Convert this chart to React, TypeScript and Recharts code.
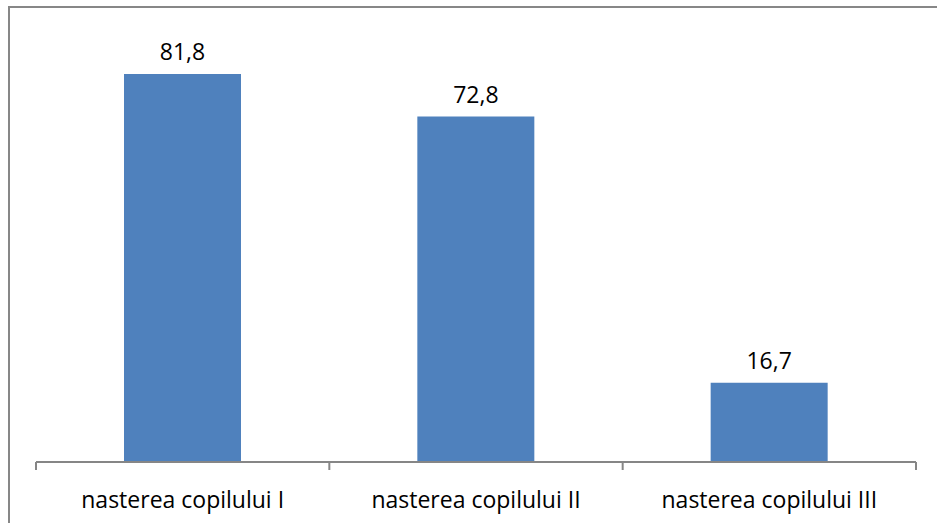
import React from "react";
import { BarChart, Bar, XAxis, YAxis, LabelList } from "recharts";

const categories = ["nasterea copilului I", "nasterea copilului II", "nasterea copilului III"];
const values = [81.8, 72.8, 16.7];
const boundaryTicks = [0, 1, 2, 3];

const data = categories.map((name, i) => ({ name, value: values[i] }));

const FONT = "'Open Sans', sans-serif";

const EmptyTick = () => <g />;

export default function App() {
  return (
    <div
      style={{
        position: "absolute",
        left: 8,
        top: 6,
        width: 927,
        height: 515,
        borderTop: "2px solid #878787",
        borderLeft: "2px solid #878787",
        background: "#fff",
        fontFamily: FONT,
        overflow: "hidden",
      }}
    >
      <BarChart
        width={927}
        height={515}
        data={data}
        margin={{ top: 27, right: 21, left: 26, bottom: 13 }}
        barCategoryGap="30%"
      >
        <YAxis hide domain={[0, 90]} />
        <XAxis
          xAxisId="a_ticks"
          type="number"
          dataKey={() => 0}
          domain={[0, 3]}
          ticks={boundaryTicks}
          tick={EmptyTick}
          tickSize={8}
          height={8}
          axisLine={{ stroke: "#868686", strokeWidth: 2 }}
          tickLine={{ stroke: "#868686", strokeWidth: 2 }}
        />
        <XAxis
          xAxisId="b_cat"
          dataKey="name"
          axisLine={false}
          tickLine={false}
          height={40}
          tickMargin={16}
          tick={{ fill: "#000", fontSize: 23, fontFamily: FONT }}
        />
        <Bar dataKey="value" xAxisId="b_cat" fill="#4F81BD" isAnimationActive={false}>
          <LabelList
            dataKey="value"
            position="top"
            offset={14}
            fill="#000"
            fontSize={23}
            fontFamily={FONT}
            formatter={(v: number) => String(v).replace(".", ",")}
          />
        </Bar>
      </BarChart>
    </div>
  );
}
